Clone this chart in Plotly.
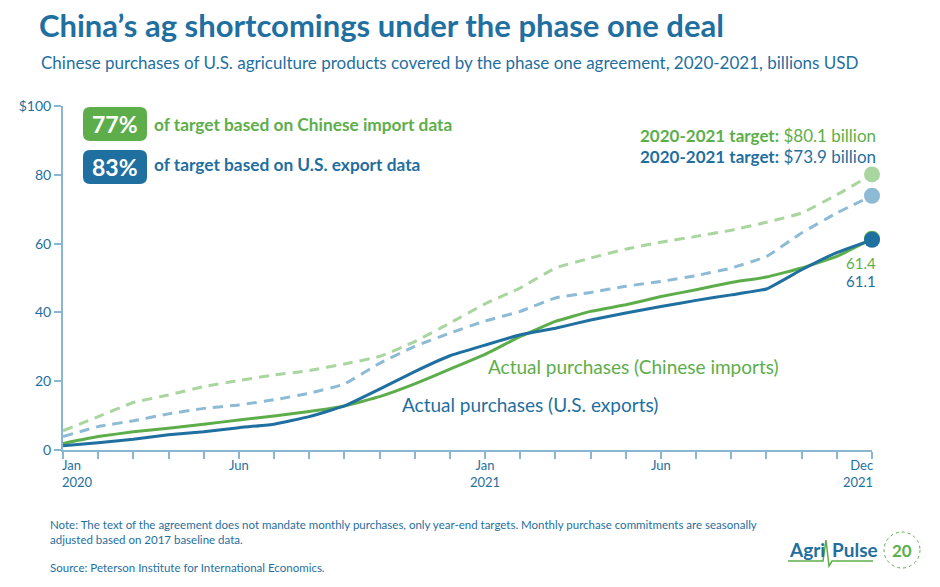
import plotly.graph_objects as go

months = ["Jan 2020", "Feb 2020", "Mar 2020", "Apr 2020", "May 2020", "Jun 2020",
          "Jul 2020", "Aug 2020", "Sep 2020", "Oct 2020", "Nov 2020", "Dec 2020",
          "Jan 2021", "Feb 2021", "Mar 2021", "Apr 2021", "May 2021", "Jun 2021",
          "Jul 2021", "Aug 2021", "Sep 2021", "Oct 2021", "Nov 2021", "Dec 2021"]

china_target = [5.6, 9.7, 13.8, 16.0, 18.4, 20.2, 21.8, 23.1, 25.0, 27.2, 31.5, 36.9,
                42.5, 47.1, 52.9, 55.8, 58.4, 60.4, 62.1, 63.9, 66.2, 68.9, 74.2, 80.1]
us_target = [3.9, 6.8, 8.5, 10.5, 12.1, 13.1, 14.6, 16.5, 19.2, 25.2, 30.1, 34.0,
             37.5, 40.3, 44.2, 45.8, 47.6, 49.0, 50.7, 52.9, 56.3, 63.1, 68.9, 73.9]
china_actual = [1.9, 3.9, 5.3, 6.3, 7.5, 8.7, 9.9, 11.2, 12.8, 15.5, 19.2, 23.5,
                27.8, 33.0, 37.4, 40.3, 42.2, 44.6, 46.6, 48.7, 50.3, 52.9, 56.3, 61.4]
us_actual = [1.2, 2.1, 3.1, 4.4, 5.3, 6.5, 7.5, 9.7, 12.8, 17.7, 22.8, 27.4,
             30.5, 33.5, 35.4, 37.8, 39.8, 41.7, 43.5, 45.1, 46.8, 52.4, 57.4, 61.1]

y_ticks = [0, 20, 40, 60, 80, 100]
y_ticktext = ["0", "20", "40", "60", "80", "$100"]
x_label_months = ["Jan 2020", "Jun 2020", "Jan 2021", "Jun 2021", "Dec 2021"]
x_label_text = ["Jan<br>2020", "Jun", "Jan<br>2021", "Jun", "Dec<br>2021"]

GREEN = "#5DAE4B"
BLUE = "#1F6FA0"
LGREEN = "#A9D59E"
LBLUE = "#8DBAD5"
AXIS = "#8BB6D2"
FONT = "Lato"


def px(x):
    return (x - 63) / 809


def py(y):
    return (450 - y) / 344


fig = go.Figure()

fig.add_trace(go.Scatter(x=months, y=china_target, mode="lines",
                         line=dict(color=LGREEN, width=3, dash="10px,7px", shape="spline", smoothing=0.4),
                         hoverinfo="skip"))
fig.add_trace(go.Scatter(x=months, y=us_target, mode="lines",
                         line=dict(color=LBLUE, width=3, dash="10px,7px", shape="spline", smoothing=0.4),
                         hoverinfo="skip"))
fig.add_trace(go.Scatter(x=months, y=china_actual, mode="lines",
                         line=dict(color=GREEN, width=3, shape="spline", smoothing=0.3),
                         hoverinfo="skip"))
fig.add_trace(go.Scatter(x=months, y=us_actual, mode="lines",
                         line=dict(color=BLUE, width=3, shape="spline", smoothing=0.3),
                         hoverinfo="skip"))

# end markers
for series, col in [(china_target, LGREEN), (us_target, LBLUE), (china_actual, GREEN), (us_actual, BLUE)]:
    fig.add_trace(go.Scatter(x=[months[-1]], y=[series[-1]], mode="markers",
                             marker=dict(color=col, size=16, line=dict(width=0)),
                             cliponaxis=False, hoverinfo="skip"))

annotations = []

# subtitle
annotations.append(dict(xref="paper", yref="paper", x=px(39), y=py(62), xanchor="left", yanchor="middle",
                        text="Chinese purchases of U.S. agriculture products covered by the phase one agreement, 2020-2021, billions USD",
                        showarrow=False, font=dict(family=FONT, size=17, color=BLUE)))

# x labels
for m, t in zip(x_label_months, x_label_text):
    anchor = "center"
    if m == months[0]:
        anchor = "left"
    elif m == months[-1]:
        anchor = "right"
    annotations.append(dict(xref="x", yref="paper", x=m, y=py(455), xanchor=anchor, yanchor="top",
                            xshift=-3 if anchor == "left" else (3 if anchor == "right" else 0),
                            text=t, showarrow=False, align=anchor,
                            font=dict(family=FONT, size=13, color=BLUE)))

# legend boxes text
annotations.append(dict(xref="paper", yref="paper", x=px(115), y=py(124), text="<b>77%</b>",
                        showarrow=False, xanchor="center", yanchor="middle",
                        font=dict(family=FONT, size=23, color="white")))
annotations.append(dict(xref="paper", yref="paper", x=px(115), y=py(167), text="<b>83%</b>",
                        showarrow=False, xanchor="center", yanchor="middle",
                        font=dict(family=FONT, size=23, color="white")))
annotations.append(dict(xref="paper", yref="paper", x=px(152), y=py(124),
                        text="<b>of target based on Chinese import data</b>",
                        showarrow=False, xanchor="left", yanchor="middle",
                        font=dict(family=FONT, size=17.3, color=GREEN)))
annotations.append(dict(xref="paper", yref="paper", x=px(152), y=py(164),
                        text="<b>of target based on U.S. export data</b>",
                        showarrow=False, xanchor="left", yanchor="middle",
                        font=dict(family=FONT, size=17.3, color=BLUE)))

# target annotations
annotations.append(dict(xref="paper", yref="paper", x=px(878), y=py(135),
                        text="<b>2020-2021 target:</b> $80.1 billion",
                        showarrow=False, xanchor="right", yanchor="middle",
                        font=dict(family=FONT, size=17, color=GREEN)))
annotations.append(dict(xref="paper", yref="paper", x=px(878), y=py(156),
                        text="<b>2020-2021 target:</b> $73.9 billion",
                        showarrow=False, xanchor="right", yanchor="middle",
                        font=dict(family=FONT, size=17, color=BLUE)))

# end values
annotations.append(dict(xref="x", yref="paper", x=months[-1], y=py(263), text=f"{china_actual[-1]}",
                        showarrow=False, xanchor="right", yanchor="middle", xshift=6,
                        font=dict(family=FONT, size=15, color=GREEN)))
annotations.append(dict(xref="x", yref="paper", x=months[-1], y=py(281), text=f"{us_actual[-1]}",
                        showarrow=False, xanchor="right", yanchor="middle", xshift=6,
                        font=dict(family=FONT, size=15, color=BLUE)))

# series labels
annotations.append(dict(xref="paper", yref="paper", x=px(486), y=py(366),
                        text="Actual purchases (Chinese imports)",
                        showarrow=False, xanchor="left", yanchor="middle",
                        font=dict(family=FONT, size=19, color=GREEN)))
annotations.append(dict(xref="paper", yref="paper", x=px(400), y=py(404),
                        text="Actual purchases (U.S. exports)",
                        showarrow=False, xanchor="left", yanchor="middle",
                        font=dict(family=FONT, size=19, color=BLUE)))

# footer
annotations.append(dict(xref="paper", yref="paper", x=px(48), y=py(516),
                        text="Note: The text of the agreement does not mandate monthly purchases, only year-end targets. Monthly purchase commitments are seasonally<br>adjusted based on 2017 baseline data.",
                        showarrow=False, xanchor="left", yanchor="top", align="left",
                        font=dict(family=FONT, size=11.5, color=BLUE)))
annotations.append(dict(xref="paper", yref="paper", x=px(48), y=py(567),
                        text="Source: Peterson Institute for International Economics.",
                        showarrow=False, xanchor="left", yanchor="middle", align="left",
                        font=dict(family=FONT, size=11.5, color=BLUE)))

# logo (text approximation)
annotations.append(dict(xref="paper", yref="paper", x=px(787), y=py(549),
                        text="<b>Agri</b>", showarrow=False, xanchor="left", yanchor="middle",
                        font=dict(family=FONT, size=19, color=BLUE)))
annotations.append(dict(xref="paper", yref="paper", x=px(830), y=py(549),
                        text="<b>Pulse</b>", showarrow=False, xanchor="left", yanchor="middle",
                        font=dict(family=FONT, size=19, color=BLUE)))
annotations.append(dict(xref="paper", yref="paper", x=px(902), y=py(550),
                        text="<b>20</b>", showarrow=False, xanchor="center", yanchor="middle",
                        font=dict(family=FONT, size=17, color=GREEN)))


def rounded_box(x0, y0, x1, y1, r):
    p = (f"M {px(x0 + r)},{py(y0)} L {px(x1 - r)},{py(y0)} Q {px(x1)},{py(y0)} {px(x1)},{py(y0 + r)} "
         f"L {px(x1)},{py(y1 - r)} Q {px(x1)},{py(y1)} {px(x1 - r)},{py(y1)} "
         f"L {px(x0 + r)},{py(y1)} Q {px(x0)},{py(y1)} {px(x0)},{py(y1 - r)} "
         f"L {px(x0)},{py(y0 + r)} Q {px(x0)},{py(y0)} {px(x0 + r)},{py(y0)} Z")
    return p


shapes = [
    dict(type="path", xref="paper", yref="paper", path=rounded_box(83, 107, 147, 141, 7),
         fillcolor=GREEN, line=dict(width=0), layer="above"),
    dict(type="path", xref="paper", yref="paper", path=rounded_box(83, 150, 147, 184, 7),
         fillcolor=BLUE, line=dict(width=0), layer="above"),
    # logo pulse line
    dict(type="path", xref="paper", yref="paper",
         path=f"M {px(788)},{py(561)} L {px(823)},{py(561)} L {px(826)},{py(540)} "
              f"L {px(829)},{py(566)} L {px(832)},{py(561)} L {px(873)},{py(561)}",
         line=dict(color=GREEN, width=1.5)),
    dict(type="circle", xref="paper", yref="paper",
         x0=px(884), x1=px(920), y0=py(568), y1=py(532),
         line=dict(color=GREEN, width=1, dash="dot")),
]

fig.update_layout(
    width=940, height=587,
    margin=dict(l=63, r=68, t=106, b=137),
    paper_bgcolor="white", plot_bgcolor="white",
    showlegend=False,
    title=dict(text="<b>China’s ag shortcomings under the phase one deal</b>",
               x=39/940, xanchor="left", xref="container",
               y=1 - 26/587, yanchor="middle", yref="container",
               font=dict(family=FONT, size=31, color=BLUE, weight=900)),
    xaxis=dict(type="category", categoryorder="array", categoryarray=months,
               range=[0, 23], showgrid=False, zeroline=False,
               showline=True, linecolor=AXIS, linewidth=2,
               ticks="outside", tickson="labels", ticklen=7, tickcolor=AXIS, tickwidth=1.5,
               showticklabels=False, fixedrange=True),
    yaxis=dict(range=[0, 100], tickvals=y_ticks, ticktext=y_ticktext,
               showgrid=False, zeroline=False, showline=True, linecolor=AXIS, linewidth=2,
               ticks="outside", ticklen=7, tickcolor=AXIS, tickwidth=1.5,
               tickfont=dict(family=FONT, size=14, color=BLUE), fixedrange=True),
    annotations=annotations,
    shapes=shapes,
)

fig.write_html("out.html", config={"displayModeBar": False},
               post_script="document.body.style.margin='0';")
